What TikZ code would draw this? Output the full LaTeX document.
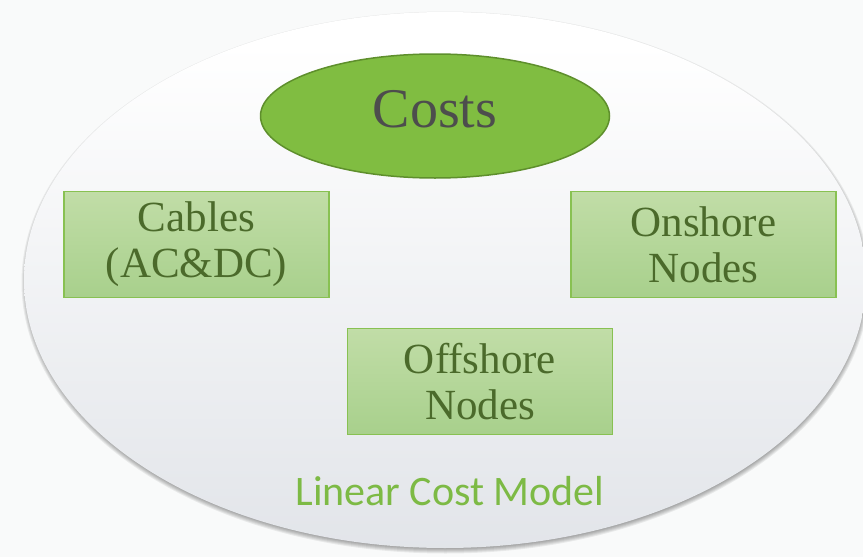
\documentclass[tikz,border=0pt]{standalone}
\usepackage{fontspec}
\setmainfont{Liberation Serif}
\newfontfamily\modelfont{Carlito}
\usetikzlibrary{shapes.geometric}
\definecolor{pagebg}{HTML}{F9FAFA}
\definecolor{costfill}{HTML}{80BD41}
\definecolor{costedge}{HTML}{5E8F2C}
\definecolor{costtext}{HTML}{4D4D4D}
\definecolor{boxtop}{HTML}{C1DDA7}
\definecolor{boxbot}{HTML}{A8D08C}
\definecolor{boxedge}{HTML}{88C152}
\definecolor{boxtext}{HTML}{4B6A2B}
\definecolor{modeltext}{HTML}{7DBA45}
\definecolor{ovalbot}{HTML}{DFE2E7}
\pgfdeclareverticalshading{ovalshade}{100bp}{color(0bp)=(ovalbot); color(20bp)=(ovalbot); color(72bp)=(white); color(100bp)=(white)}
\begin{document}
\begin{tikzpicture}[x=1pt,y=-1pt,
  costbox/.style={draw=boxedge, line width=1.2pt, top color=boxtop, bottom color=boxbot,
    minimum width=265pt, minimum height=106pt, align=center, text=boxtext,
    font=\fontsize{43}{46}\selectfont, inner sep=0pt},
  oval/.style={ellipse, inner sep=0pt, shading=ovalshade},
  ovalshadow/.style={fill=black, opacity=0.065},
  costoval/.style={ellipse, inner sep=0pt, draw=costedge, line width=1.5pt, fill=costfill},
]
\useasboundingbox (0,0) rectangle (863,557);
\clip (0,0) rectangle (863,557);
\fill[pagebg] (0,0) rectangle (863,557);
\foreach \k in {1,...,6}
  \fill[ovalshadow] (445.5,282.5) ellipse [x radius={418pt+\k pt}, y radius={265pt+\k pt}];
\node[oval, minimum width=842pt, minimum height=536pt] (model) at (445,280) {};
\node[costoval, minimum width=349pt, minimum height=124pt] (costs) at (435,116) {};
\node[text=costtext, font=\fontsize{56}{60}\selectfont, inner sep=0pt] (costslabel) at (435,109) {Costs};
\node[costbox] (cables) at (196.5,244.5) {Cables\\(AC\&DC)};
\node[costbox] (onshore) at (703.5,244.5) {Onshore\\Nodes};
\node[costbox] (offshore) at (480,381.5) {Offshore\\Nodes};
\node[text=modeltext, font=\modelfont\fontsize{42}{46}\selectfont, inner sep=0pt] (modellabel) at (450,491) {Linear Cost Model};
\end{tikzpicture}
\end{document}
